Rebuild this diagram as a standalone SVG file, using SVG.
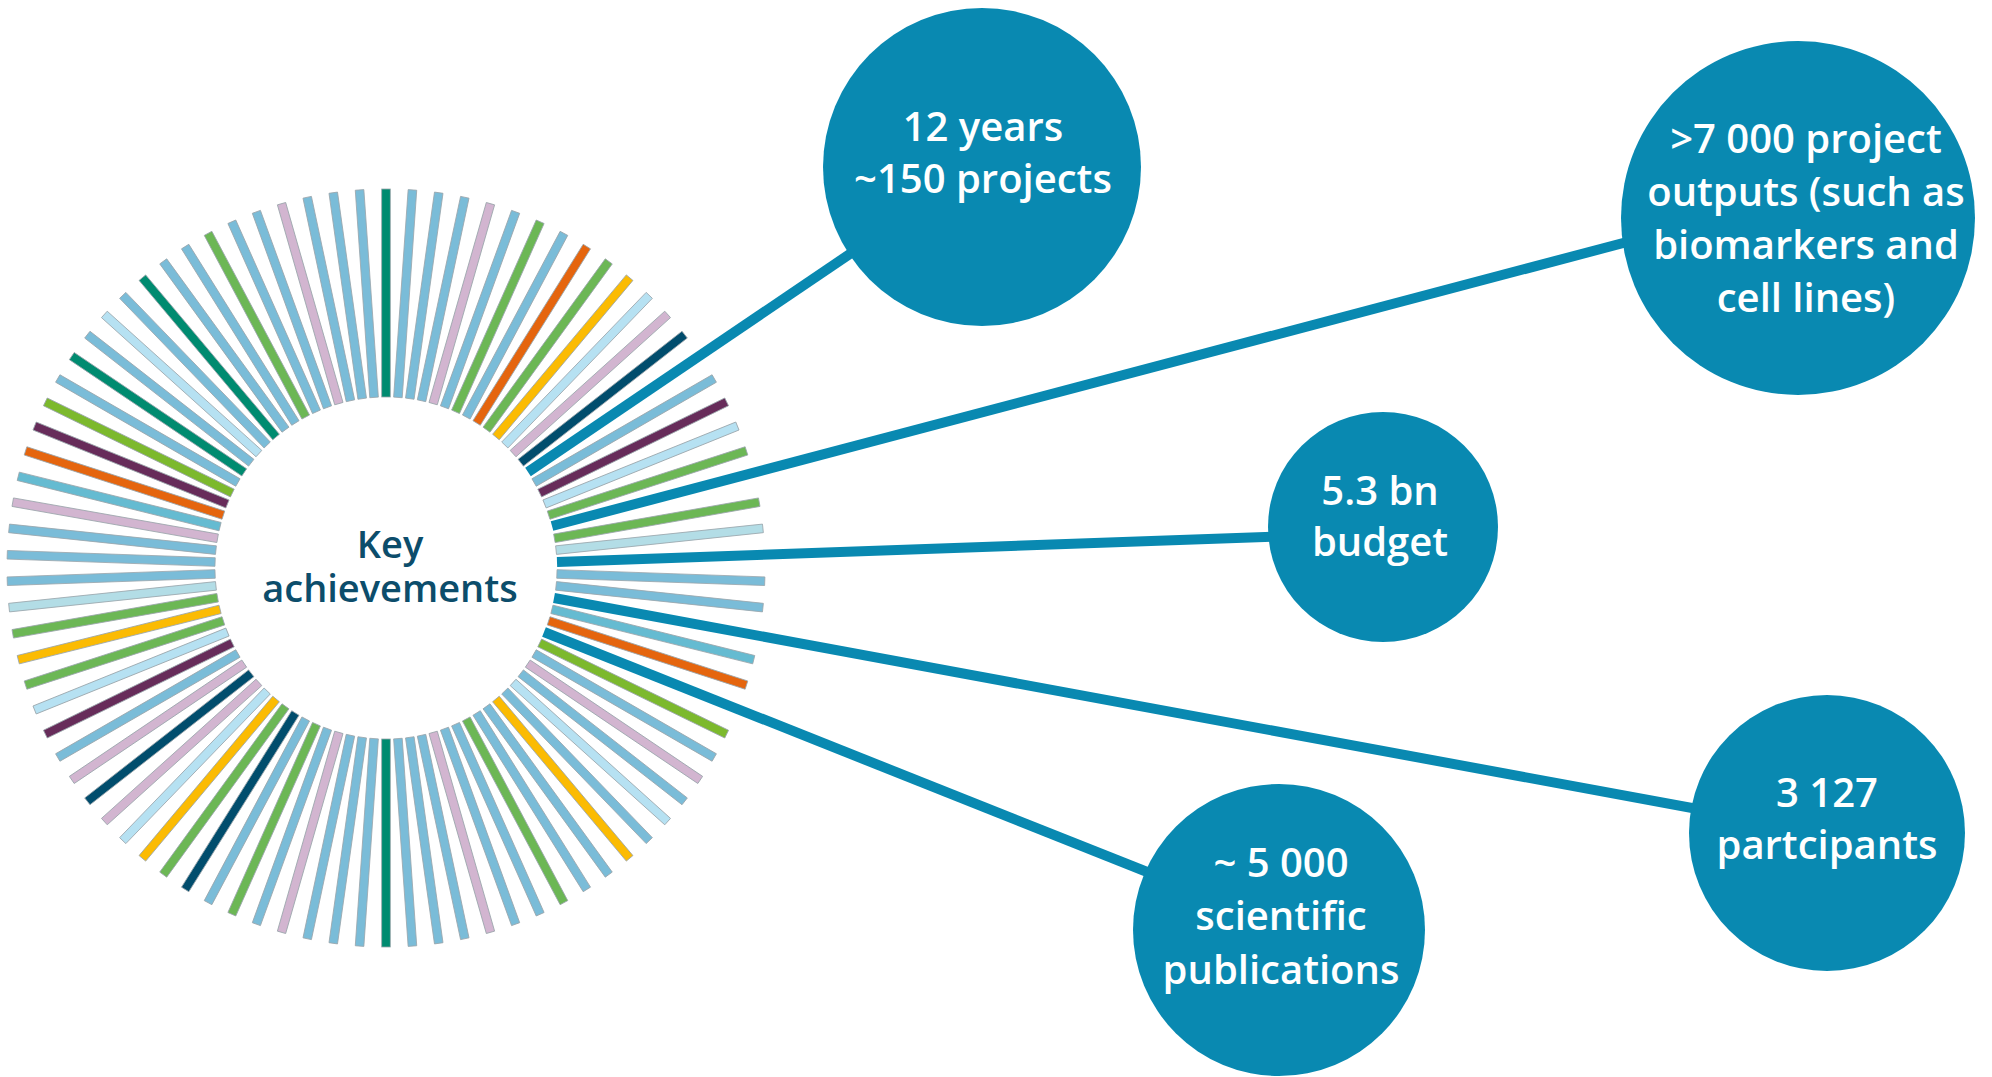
<svg xmlns="http://www.w3.org/2000/svg" xmlns:xlink="http://www.w3.org/1999/xlink" width="1992" height="1077" viewBox="0 0 1992 1077">
<style>
.b{stroke:#9aa5ab;stroke-width:0.8}
.lb{fill:#7abcd8}.pk{fill:#d2b5d0}.gr{fill:#6cb755}.yg{fill:#7cb92d}.dg{fill:#008b70}.or{fill:#e5650e}.ye{fill:#fbbb03}.pa{fill:#b6e1f2}.pg{fill:#b3dde6}.nv{fill:#014d6d}.pu{fill:#672c5a}.cy{fill:#65bbd1}
.conn{stroke:#0989b1;stroke-width:10;fill:none}
.node circle{fill:#0989b1}
.node text{font-family:"Open Sans","Liberation Sans",sans-serif;font-weight:600;font-size:40px;fill:#ffffff;text-anchor:middle}
.title{font-family:"Open Sans","Liberation Sans",sans-serif;font-weight:600;font-size:38px;fill:#0c4d6b;text-anchor:middle}
</style>
<defs>
<rect id="bar" x="-4.3" y="-379" width="8.6" height="208"/>
</defs>
<rect width="1992" height="1077" fill="#ffffff"/>
<g id="connectors">
<line class="conn" x1="528" y1="472" x2="900" y2="220"/>
<line class="conn" x1="552" y1="526" x2="1680" y2="228"/>
<line class="conn" x1="557" y1="562" x2="1320" y2="535"/>
<line class="conn" x1="554" y1="598" x2="1730" y2="815"/>
<line class="conn" x1="544" y1="632" x2="1190" y2="889"/>
</g>
<g id="ring" transform="translate(386,568)">
<use href="#bar" class="b dg" transform="rotate(0)"/>
<use href="#bar" class="b lb" transform="rotate(4)"/>
<use href="#bar" class="b lb" transform="rotate(8)"/>
<use href="#bar" class="b lb" transform="rotate(12)"/>
<use href="#bar" class="b pk" transform="rotate(16)"/>
<use href="#bar" class="b lb" transform="rotate(20)"/>
<use href="#bar" class="b gr" transform="rotate(24)"/>
<use href="#bar" class="b lb" transform="rotate(28)"/>
<use href="#bar" class="b or" transform="rotate(32)"/>
<use href="#bar" class="b gr" transform="rotate(36)"/>
<use href="#bar" class="b ye" transform="rotate(40)"/>
<use href="#bar" class="b pa" transform="rotate(44)"/>
<use href="#bar" class="b pk" transform="rotate(48)"/>
<use href="#bar" class="b nv" transform="rotate(52)"/>
<use href="#bar" class="b lb" transform="rotate(60)"/>
<use href="#bar" class="b pu" transform="rotate(64)"/>
<use href="#bar" class="b pa" transform="rotate(68)"/>
<use href="#bar" class="b gr" transform="rotate(72)"/>
<use href="#bar" class="b gr" transform="rotate(80)"/>
<use href="#bar" class="b pg" transform="rotate(84)"/>
<use href="#bar" class="b lb" transform="rotate(92)"/>
<use href="#bar" class="b lb" transform="rotate(96)"/>
<use href="#bar" class="b cy" transform="rotate(104)"/>
<use href="#bar" class="b or" transform="rotate(108)"/>
<use href="#bar" class="b yg" transform="rotate(116)"/>
<use href="#bar" class="b lb" transform="rotate(120)"/>
<use href="#bar" class="b pk" transform="rotate(124)"/>
<use href="#bar" class="b lb" transform="rotate(128)"/>
<use href="#bar" class="b pa" transform="rotate(132)"/>
<use href="#bar" class="b lb" transform="rotate(136)"/>
<use href="#bar" class="b ye" transform="rotate(140)"/>
<use href="#bar" class="b lb" transform="rotate(144)"/>
<use href="#bar" class="b lb" transform="rotate(148)"/>
<use href="#bar" class="b gr" transform="rotate(152)"/>
<use href="#bar" class="b lb" transform="rotate(156)"/>
<use href="#bar" class="b lb" transform="rotate(160)"/>
<use href="#bar" class="b pk" transform="rotate(164)"/>
<use href="#bar" class="b lb" transform="rotate(168)"/>
<use href="#bar" class="b lb" transform="rotate(172)"/>
<use href="#bar" class="b lb" transform="rotate(176)"/>
<use href="#bar" class="b dg" transform="rotate(180)"/>
<use href="#bar" class="b lb" transform="rotate(184)"/>
<use href="#bar" class="b lb" transform="rotate(188)"/>
<use href="#bar" class="b lb" transform="rotate(192)"/>
<use href="#bar" class="b pk" transform="rotate(196)"/>
<use href="#bar" class="b lb" transform="rotate(200)"/>
<use href="#bar" class="b gr" transform="rotate(204)"/>
<use href="#bar" class="b lb" transform="rotate(208)"/>
<use href="#bar" class="b nv" transform="rotate(212)"/>
<use href="#bar" class="b gr" transform="rotate(216)"/>
<use href="#bar" class="b ye" transform="rotate(220)"/>
<use href="#bar" class="b pa" transform="rotate(224)"/>
<use href="#bar" class="b pk" transform="rotate(228)"/>
<use href="#bar" class="b nv" transform="rotate(232)"/>
<use href="#bar" class="b pk" transform="rotate(236)"/>
<use href="#bar" class="b lb" transform="rotate(240)"/>
<use href="#bar" class="b pu" transform="rotate(244)"/>
<use href="#bar" class="b pa" transform="rotate(248)"/>
<use href="#bar" class="b gr" transform="rotate(252)"/>
<use href="#bar" class="b ye" transform="rotate(256)"/>
<use href="#bar" class="b gr" transform="rotate(260)"/>
<use href="#bar" class="b pg" transform="rotate(264)"/>
<use href="#bar" class="b lb" transform="rotate(268)"/>
<use href="#bar" class="b lb" transform="rotate(272)"/>
<use href="#bar" class="b lb" transform="rotate(276)"/>
<use href="#bar" class="b pk" transform="rotate(280)"/>
<use href="#bar" class="b cy" transform="rotate(284)"/>
<use href="#bar" class="b or" transform="rotate(288)"/>
<use href="#bar" class="b pu" transform="rotate(292)"/>
<use href="#bar" class="b yg" transform="rotate(296)"/>
<use href="#bar" class="b lb" transform="rotate(300)"/>
<use href="#bar" class="b dg" transform="rotate(304)"/>
<use href="#bar" class="b lb" transform="rotate(308)"/>
<use href="#bar" class="b pa" transform="rotate(312)"/>
<use href="#bar" class="b lb" transform="rotate(316)"/>
<use href="#bar" class="b dg" transform="rotate(320)"/>
<use href="#bar" class="b lb" transform="rotate(324)"/>
<use href="#bar" class="b lb" transform="rotate(328)"/>
<use href="#bar" class="b gr" transform="rotate(332)"/>
<use href="#bar" class="b lb" transform="rotate(336)"/>
<use href="#bar" class="b lb" transform="rotate(340)"/>
<use href="#bar" class="b pk" transform="rotate(344)"/>
<use href="#bar" class="b lb" transform="rotate(348)"/>
<use href="#bar" class="b lb" transform="rotate(352)"/>
<use href="#bar" class="b lb" transform="rotate(356)"/>
</g>
<g id="center-label">
<text class="title" x="390" y="558">Key</text>
<text class="title" x="390" y="602">achievements</text>
</g>
<g id="node-years" class="node">
<circle cx="982" cy="167" r="159"/>
<text x="983" y="141">12 years</text>
<text x="983" y="193">~150 projects</text>
</g>
<g id="node-outputs" class="node">
<circle cx="1798" cy="218" r="177"/>
<text x="1806" y="153">&gt;7 000 project</text>
<text x="1806" y="206">outputs (such as</text>
<text x="1806" y="259">biomarkers and</text>
<text x="1806" y="312">cell lines)</text>
</g>
<g id="node-budget" class="node">
<circle cx="1383" cy="527" r="115"/>
<text x="1380" y="505">5.3 bn</text>
<text x="1380" y="556">budget</text>
</g>
<g id="node-participants" class="node">
<circle cx="1827" cy="833" r="138"/>
<text x="1827" y="807">3 127</text>
<text x="1827" y="859">partcipants</text>
</g>
<g id="node-publications" class="node">
<circle cx="1279" cy="930" r="146"/>
<text x="1281" y="877">~ 5 000</text>
<text x="1281" y="930">scientific</text>
<text x="1281" y="984">publications</text>
</g>
</svg>
